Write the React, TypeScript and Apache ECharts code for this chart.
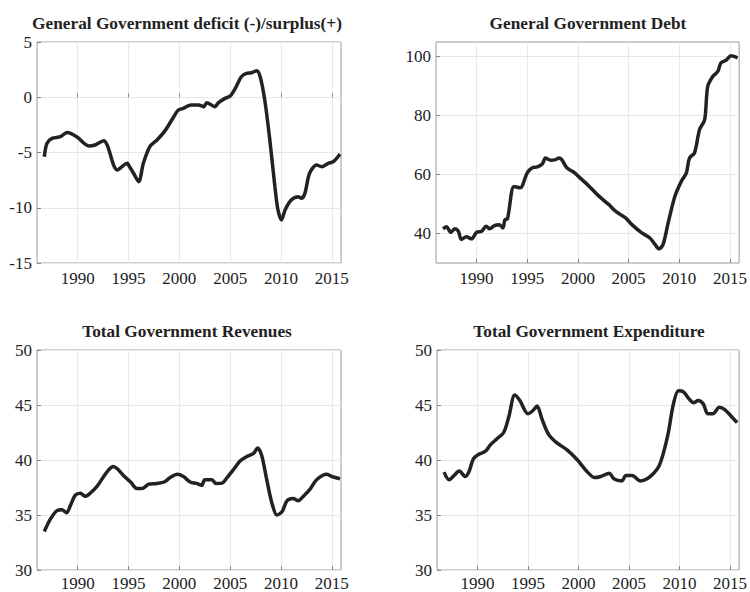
import React, { useEffect, useRef } from "react";
import * as echarts from "echarts";

const titles = [
  "General Government deficit (-)/surplus(+)",
  "General Government Debt",
  "Total Government Revenues",
  "Total Government Expenditure",
];

const xTickYears = [1990, 1995, 2000, 2005, 2010, 2015];

const deficitYears = [1986.72, 1986.98, 1987.48, 1988.3, 1988.95, 1989.9, 1991.1, 1991.7, 1992.57, 1992.9, 1993.9, 1994.9, 1995.0, 1995.5, 1996.0, 1996.46, 1997.1, 1997.8, 1998.6, 1999.45, 1999.9, 2000.4, 2000.8, 2001.2, 2001.9, 2002.4, 2002.7, 2003.5, 2003.85, 2004.5, 2005.0, 2005.5, 2006.1, 2006.6, 2007.1, 2007.6, 2007.95, 2008.4, 2008.9, 2009.4, 2009.7, 2010.05, 2010.4, 2011.0, 2011.7, 2012.0, 2012.35, 2012.8, 2013.5, 2014.0, 2014.65, 2015.15, 2015.8];
const deficitValues = [-5.38, -4.17, -3.72, -3.57, -3.2, -3.57, -4.41, -4.32, -3.93, -4.32, -6.58, -5.98, -6.13, -6.88, -7.64, -5.98, -4.47, -3.87, -3.02, -1.76, -1.15, -1.0, -0.8, -0.7, -0.7, -0.85, -0.49, -0.85, -0.49, -0.1, 0.11, 0.81, 1.86, 2.17, 2.22, 2.4, 1.86, -0.25, -3.87, -8.1, -10.2, -11.1, -10.2, -9.3, -9.0, -9.15, -8.7, -6.9, -6.13, -6.28, -5.98, -5.83, -5.13];

const debtYears = [1986.7, 1987.04, 1987.46, 1987.85, 1988.2, 1988.5, 1989.0, 1989.5, 1990.0, 1990.5, 1990.95, 1991.3, 1991.76, 1992.25, 1992.6, 1992.8, 1993.05, 1993.7, 1994.3, 1995.0, 1995.5, 1996.0, 1996.5, 1996.8, 1997.3, 1997.8, 1998.1, 1998.4, 1998.9, 1999.6, 2000.2, 2001.0, 2002.1, 2003.06, 2003.7, 2004.7, 2005.3, 2006.3, 2007.1, 2007.6, 2008.0, 2008.4, 2008.9, 2009.56, 2010.2, 2010.7, 2011.0, 2011.5, 2012.0, 2012.5, 2012.8, 2013.3, 2013.8, 2014.1, 2014.6, 2015.1, 2015.75];
const debtValues = [41.6, 42.3, 40.4, 41.6, 40.8, 38.0, 38.9, 38.2, 40.4, 40.8, 42.5, 41.6, 42.7, 43.0, 41.9, 44.7, 45.0, 56.0, 55.5, 60.6, 62.3, 62.6, 63.7, 65.6, 64.9, 65.1, 65.6, 65.1, 62.3, 60.8, 58.9, 56.4, 52.6, 49.8, 47.6, 45.3, 43.1, 40.2, 38.5, 36.3, 34.8, 36.3, 43.6, 52.6, 57.7, 60.6, 65.6, 67.4, 75.3, 78.6, 89.9, 93.3, 95.0, 97.9, 98.8, 100.3, 99.6];

const revenueYears = [1986.72, 1987.3, 1987.97, 1988.46, 1988.9, 1989.3, 1989.77, 1990.26, 1990.75, 1991.25, 1991.9, 1992.56, 1993.05, 1993.5, 1993.9, 1994.5, 1995.2, 1995.85, 1996.3, 1997.0, 1997.8, 1998.5, 1999.1, 1999.8, 2000.4, 2001.06, 2001.7, 2002.2, 2002.5, 2003.2, 2003.6, 2004.2, 2004.7, 2005.3, 2005.97, 2006.6, 2007.3, 2007.7, 2008.1, 2008.6, 2009.1, 2009.6, 2010.1, 2010.6, 2011.2, 2011.7, 2012.2, 2012.9, 2013.5, 2014.5, 2015.0, 2015.8];
const revenueValues = [33.5, 34.6, 35.4, 35.47, 35.2, 35.9, 36.8, 36.97, 36.7, 37.0, 37.6, 38.5, 39.1, 39.4, 39.2, 38.6, 38.0, 37.4, 37.4, 37.8, 37.87, 38.0, 38.4, 38.7, 38.5, 38.0, 37.87, 37.7, 38.2, 38.2, 37.87, 37.9, 38.4, 39.1, 39.9, 40.3, 40.6, 41.1, 40.4, 38.2, 36.1, 35.0, 35.3, 36.3, 36.5, 36.3, 36.7, 37.4, 38.2, 38.7, 38.5, 38.3];

const expenditureYears = [1986.7, 1987.2, 1987.7, 1988.2, 1988.8, 1989.15, 1989.6, 1990.1, 1990.8, 1991.3, 1991.9, 1992.6, 1993.1, 1993.7, 1994.2, 1995.0, 1995.5, 1995.9, 1996.4, 1997.0, 1997.8, 1998.9, 1999.9, 2000.9, 2001.6, 2002.2, 2003.05, 2003.5, 2004.3, 2004.7, 2005.3, 2006.15, 2006.8, 2007.45, 2007.95, 2008.4, 2008.9, 2009.4, 2009.9, 2010.4, 2010.9, 2011.4, 2011.85, 2012.35, 2012.8, 2013.3, 2013.95, 2014.45, 2015.1, 2015.7];
const expenditureValues = [38.9, 38.2, 38.6, 39.0, 38.5, 38.9, 40.1, 40.5, 40.8, 41.4, 41.9, 42.5, 43.9, 45.9, 45.4, 44.2, 44.5, 44.9, 43.7, 42.4, 41.6, 40.9, 40.0, 38.9, 38.4, 38.5, 38.8, 38.3, 38.1, 38.6, 38.6, 38.1, 38.3, 38.8, 39.4, 40.6, 42.5, 45.1, 46.3, 46.2, 45.6, 45.2, 45.4, 45.1, 44.2, 44.2, 44.8, 44.6, 44.0, 43.4];

const debtTicks = [40, 60, 80, 100];

const SERIF = "'Liberation Serif', 'DejaVu Serif', serif";

export default function App() {
  const ref = useRef<HTMLDivElement>(null);
  useEffect(() => {
    document.body.style.margin = "0";
    if (!ref.current) return;
    const chart = echarts.init(ref.current, null, { renderer: "svg" });

    const grids = [
      { left: 37, top: 42, width: 304, height: 221 },
      { left: 436, top: 42, width: 307, height: 221 },
      { left: 37, top: 350, width: 304, height: 222 },
      { left: 437, top: 350, width: 306, height: 222 },
    ];
    const titleCenters = [182, 583, 182, 584];
    const yRanges: any[] = [
      { min: -15, max: 5, interval: 5 },
      { min: 30, max: 105, custom: debtTicks },
      { min: 30, max: 50, interval: 5 },
      { min: 30, max: 50, interval: 5 },
    ];
    const seriesData = [
      deficitYears.map((y, i) => [y, deficitValues[i]]),
      debtYears.map((y, i) => [y, debtValues[i]]),
      revenueYears.map((y, i) => [y, revenueValues[i]]),
      expenditureYears.map((y, i) => [y, expenditureValues[i]]),
    ];
    const labelMargin = [7, 7, 5, 5];

    const option: any = {
      animation: false,
      backgroundColor: "#ffffff",
      textStyle: { fontFamily: SERIF },
      title: titles.map((t, i) => ({
        text: t,
        left: titleCenters[i],
        top: i < 2 ? 10 : 318,
        textAlign: "center",
        textStyle: { fontFamily: SERIF, fontWeight: "bold", fontSize: 17.3, color: "#222" },
      })),
      grid: grids.map((g) => ({ ...g, show: true, borderColor: "#9a9a9a", borderWidth: 1, backgroundColor: "transparent" })),
      xAxis: grids.map((g, i) => ({
        type: "value",
        gridIndex: i,
        min: 1986,
        max: 2015.9,
        axisLine: { show: false },
        axisTick: { show: true, inside: true, length: 4, lineStyle: { color: "#888" }, customValues: xTickYears },
        axisLabel: {
          customValues: xTickYears,
          fontFamily: SERIF,
          fontSize: 17,
          color: "#222",
          margin: labelMargin[i],
          formatter: (v: number) => String(v),
        },
        splitLine: { show: true, lineStyle: { color: "#e8e8e8", width: 1 } },
      })),
      yAxis: grids.map((g, i) => {
        const r = yRanges[i];
        const base: any = {
          type: "value",
          gridIndex: i,
          min: r.min,
          max: r.max,
          axisLine: { show: false },
          axisTick: { show: true, inside: true, length: 4, lineStyle: { color: "#888" } },
          axisLabel: { fontFamily: SERIF, fontSize: 17, color: "#222", margin: 5 },
          splitLine: { show: true, lineStyle: { color: "#e8e8e8", width: 1 } },
        };
        if (r.custom) {
          base.axisTick.customValues = r.custom;
          base.axisLabel.customValues = r.custom;
        } else {
          base.interval = r.interval;
        }
        return base;
      }),
      series: seriesData.map((d, i) => ({
        type: "line",
        xAxisIndex: i,
        yAxisIndex: i,
        data: d,
        showSymbol: false,
        smooth: 0.3,
        lineStyle: { color: "#222", width: 3.5 },
      })),
    };
    chart.setOption(option);
    return () => chart.dispose();
  }, []);
  return <div ref={ref} style={{ width: 750, height: 592 }} />;
}
